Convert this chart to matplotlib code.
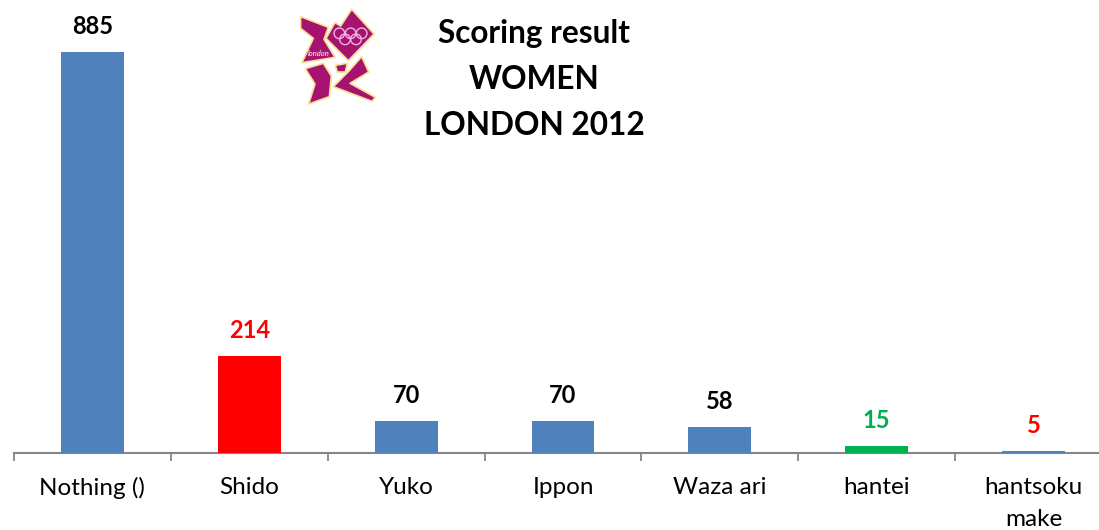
import matplotlib
matplotlib.use("Agg")
import matplotlib.pyplot as plt
from matplotlib.patches import Polygon, Circle

categories = ["Nothing ()", "Shido", "Yuko", "Ippon", "Waza ari", "hantei", "hantsoku\nmake"]
values = [885, 214, 70, 70, 58, 15, 5]
bar_colors = ["#4F81BD", "#FF0000", "#4F81BD", "#4F81BD", "#4F81BD", "#00B050", "#4F81BD"]
label_colors = ["black", "#FF0000", "black", "black", "black", "#00B050", "#FF0000"]
title_lines = ["Scoring result", "WOMEN", "LONDON 2012"]

W, H = 1099, 530
plt.rcParams["font.family"] = ["Lato", "DejaVu Sans"]

fig = plt.figure(figsize=(W / 100, H / 100), dpi=100)
ax = fig.add_axes([14 / W, 1 - 453 / H, (1112 - 14) / W, (453 - 52) / H])
xs = list(range(len(values)))
ax.bar(xs, values, width=0.4, color=bar_colors, zorder=3)
ax.set_xlim(-0.5, 6.5)
ax.set_ylim(0, 885)
ax.set_yticks([])
for s in ["top", "left", "right"]:
    ax.spines[s].set_visible(False)
ax.spines["bottom"].set_color("#868686")
ax.spines["bottom"].set_linewidth(1.5)
ax.spines["bottom"].set_zorder(2)
ax.set_xticks([i - 0.5 for i in range(8)], minor=False, labels=[""] * 8)
ax.tick_params(axis="x", length=6, width=1.3, color="#868686", direction="out")
ax.patch.set_alpha(0)

for x, v, c, lc in zip(xs, values, categories, label_colors):
    ax.annotate(str(v), (x, v), xytext=(0, 18.3), textcoords="offset points", ha="center",
                va="center", fontsize=17, fontweight="bold", color=lc, annotation_clip=False)
    ax.annotate(c, (x, 0), xytext=(0, -17.5), textcoords="offset points", ha="center", va="top",
                fontsize=17.5, color="black", annotation_clip=False, linespacing=1.6)

for i, t in enumerate(title_lines):
    fig.text(534 / W, 1 - (34 + i * 45.5) / H, t, ha="center", va="center", fontsize=22.7,
             fontweight="bold", color="black")

# London 2012 logo, traced by hand from a 3x crop starting at x=280
logo = fig.add_axes([0, 0, 1, 1], facecolor="none")
logo.set_xlim(0, W)
logo.set_ylim(H, 0)
logo.axis("off")


def crop_pts(pts):
    return [(280 + x / 3, y / 3) for x, y in pts]


shards = [
    [(62, 50), (145, 82), (132, 118), (165, 172), (66, 188), (100, 115), (62, 85)],
    [(215, 28), (282, 102), (205, 182), (138, 115), (165, 68), (182, 78)],
    [(76, 206), (130, 190), (154, 228), (148, 290), (86, 312), (105, 252)],
    [(166, 196), (202, 190), (196, 216), (172, 216)],
    [(245, 170), (266, 216), (210, 250), (286, 292), (276, 304), (160, 260), (206, 214)],
]
for pts in shards:
    logo.add_patch(Polygon(crop_pts(pts), closed=True, facecolor="#A6126F",
                           edgecolor="#F9DE96", linewidth=1.2, joinstyle="round"))
for cx, cy in [(178, 100), (212, 100), (245, 100), (195, 118), (228, 118)]:
    logo.add_patch(Circle(crop_pts([(cx, cy)])[0], 5.3, fill=False, edgecolor="#F0B4E2", linewidth=1))
logo.text(319, 54, "london", fontsize=5.5, color="white", style="italic", ha="center", va="center")

fig.savefig("out.png", dpi=100)
